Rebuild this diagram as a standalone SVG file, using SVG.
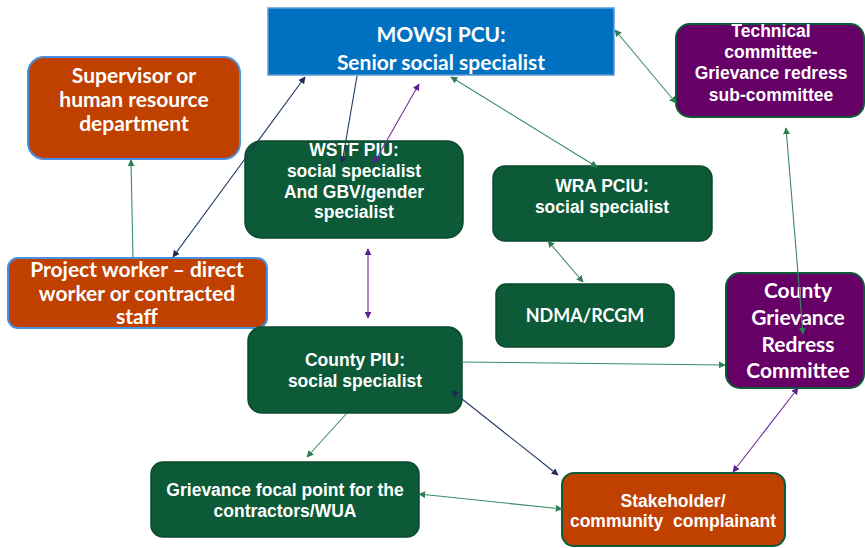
<svg xmlns="http://www.w3.org/2000/svg" width="865" height="548" viewBox="0 0 865 548">
<style>
.t{font-family:"Liberation Sans",Arial,sans-serif;font-weight:bold;fill:#fff;text-anchor:middle;font-size:17.5px}
.c{font-family:Lato,"Liberation Sans",sans-serif;font-weight:bold;fill:#fff;text-anchor:middle;font-size:21px}
.green{fill:#0C5A37;stroke:#0A4A2D;stroke-width:1.5}
.orange{fill:#C04000;stroke:#4A90E2;stroke-width:2}
.orange2{fill:#C04000;stroke:#0C5A37;stroke-width:2}
.purple{fill:#660066;stroke:#0C5A37;stroke-width:2}
.blue{fill:#0070C0;stroke:#5B9BD5;stroke-width:1.5}
.lg{stroke:#3A8A66;stroke-width:1.1;fill:none}
.ln{stroke:#1F3864;stroke-width:1.1;fill:none}
.lp{stroke:#7030A0;stroke-width:1.1;fill:none}
</style>
<defs>
<marker id="ag" viewBox="0 0 10 10" refX="9" refY="5" markerWidth="7" markerHeight="7" markerUnits="userSpaceOnUse" orient="auto-start-reverse"><path d="M0,0 L10,5 L0,10 z" fill="#2E7D55"/></marker>
<marker id="an" viewBox="0 0 10 10" refX="9" refY="5" markerWidth="7" markerHeight="7" markerUnits="userSpaceOnUse" orient="auto-start-reverse"><path d="M0,0 L10,5 L0,10 z" fill="#1F2A5A"/></marker>
<marker id="ap" viewBox="0 0 10 10" refX="9" refY="5" markerWidth="7" markerHeight="7" markerUnits="userSpaceOnUse" orient="auto-start-reverse"><path d="M0,0 L10,5 L0,10 z" fill="#5A1E96"/></marker>
</defs>
<rect width="865" height="548" fill="#fff"/>

<g id="mowsi">
<rect class="blue" x="268" y="8" width="346" height="67"/>
<text class="c" x="441" y="42">MOWSI PCU:</text>
<text class="c" x="441" y="70">Senior social specialist</text>
</g>
<g id="supervisor">
<rect class="orange" x="28" y="57" width="212" height="102" rx="16"/>
<text class="c" x="134" y="83">Supervisor or</text>
<text class="c" x="134" y="107">human resource</text>
<text class="c" x="134" y="131">department</text>
</g>
<g id="project-worker">
<rect class="orange" x="8" y="258" width="259" height="70" rx="10"/>
<text class="c" x="137" y="277">Project worker – direct</text>
<text class="c" x="137" y="301">worker or contracted</text>
<text class="c" x="137" y="324">staff</text>
</g>
<g id="wstf">
<rect class="green" x="245" y="141" width="218" height="97" rx="16"/>
<text class="t" x="354" y="156">WSTF PIU:</text>
<text class="t" x="354" y="177">social specialist</text>
<text class="t" x="354" y="198">And GBV/gender</text>
<text class="t" x="354" y="218">specialist</text>
</g>
<g id="wra">
<rect class="green" x="493" y="166" width="219" height="75" rx="12"/>
<text class="t" x="602" y="192">WRA PCIU:</text>
<text class="t" x="602" y="213">social specialist</text>
</g>
<g id="ndma">
<rect class="green" x="496" y="284" width="178" height="63" rx="10"/>
<text class="c" x="585" y="322" style="font-size:18px">NDMA/RCGM</text>
</g>
<g id="technical">
<rect class="purple" x="676" y="24" width="188" height="93" rx="14"/>
<text class="t" x="771" y="37">Technical</text>
<text class="t" x="771" y="58">committee-</text>
<text class="t" x="771" y="79">Grievance redress</text>
<text class="t" x="771" y="101">sub-committee</text>
</g>
<g id="county-grc">
<rect class="purple" x="726" y="273" width="138" height="115" rx="14"/>
<text class="c" x="798" y="298">County</text>
<text class="c" x="798" y="325">Grievance</text>
<text class="c" x="798" y="352">Redress</text>
<text class="c" x="798" y="378">Committee</text>
</g>
<g id="county-piu">
<rect class="green" x="248" y="327" width="214" height="86" rx="14"/>
<text class="t" x="355" y="366">County PIU:</text>
<text class="t" x="355" y="387">social specialist</text>
</g>
<g id="focal">
<rect class="green" x="151" y="462" width="268" height="75" rx="12"/>
<text class="t" x="285" y="496">Grievance focal point for the</text>
<text class="t" x="285" y="517">contractors/WUA</text>
</g>
<g id="stakeholder">
<rect class="orange2" x="562" y="473" width="223" height="73" rx="12"/>
<text class="t" x="673" y="507">Stakeholder/</text>
<text class="t" x="673" y="527" xml:space="preserve">community  complainant</text>
</g>

<g id="connectors">
<line class="ln" x1="173" y1="257" x2="305" y2="77" marker-start="url(#an)" marker-end="url(#an)"/>
<line class="lg" x1="133" y1="258" x2="131" y2="160" marker-end="url(#ag)"/>
<line class="ln" x1="357" y1="76" x2="342" y2="163" marker-end="url(#an)"/>
<line class="lp" x1="374" y1="163" x2="419" y2="84" marker-start="url(#ap)" marker-end="url(#ap)"/>
<line class="lg" x1="451" y1="77" x2="597" y2="167" marker-start="url(#ag)" marker-end="url(#ag)"/>
<line class="lg" x1="615" y1="30" x2="676" y2="103" marker-start="url(#ag)" marker-end="url(#ag)"/>
<line class="lp" x1="368" y1="249" x2="368" y2="318" marker-start="url(#ap)" marker-end="url(#ap)"/>
<line class="lg" x1="548" y1="241" x2="583" y2="282" marker-start="url(#ag)" marker-end="url(#ag)"/>
<line class="lg" x1="461" y1="362" x2="725" y2="365" marker-end="url(#ag)"/>
<line class="lg" x1="803" y1="334" x2="786" y2="128" marker-start="url(#ag)" marker-end="url(#ag)"/>
<line class="ln" x1="452" y1="391" x2="558" y2="475" marker-start="url(#an)" marker-end="url(#an)"/>
<line class="lp" x1="798" y1="388" x2="733" y2="472" marker-start="url(#ap)" marker-end="url(#ap)"/>
<line class="lg" x1="347" y1="413" x2="307" y2="457" marker-end="url(#ag)"/>
<line class="lg" x1="419" y1="494" x2="562" y2="509" marker-start="url(#ag)" marker-end="url(#ag)"/>
</g>
</svg>
